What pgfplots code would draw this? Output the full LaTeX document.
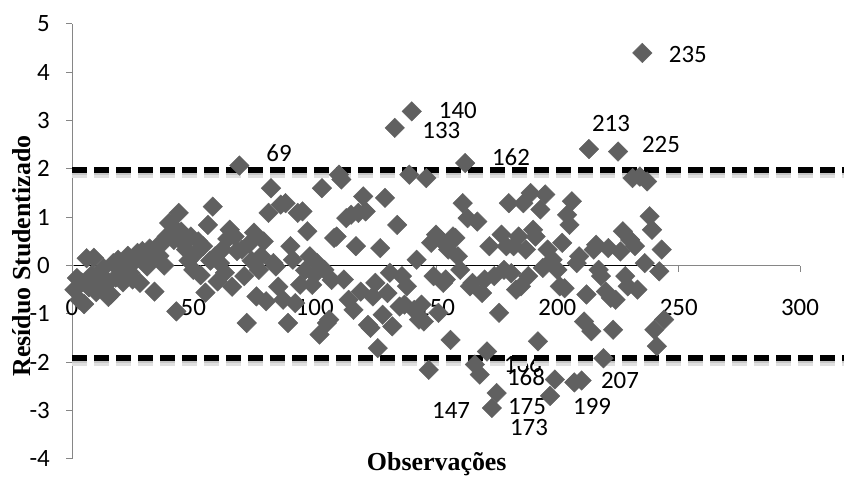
\documentclass[border=0pt]{standalone}
\usepackage{fontspec}
\setmainfont{Carlito}
\newfontfamily\titlefont{Liberation Serif}
\usepackage{pgfplots}
\usepackage{pgfplotstable}
\pgfplotsset{compat=1.18}

\definecolor{mk}{RGB}{96,96,96}
\definecolor{axgray}{RGB}{134,134,134}

% Studentized residual of each observation
\pgfplotstableread{
obs res
1 -0.50
2 -0.26
3 -0.71
4 -0.35
5 -0.80
6 0.15
7 -0.45
8 -0.20
9 0.16
10 -0.55
11 -0.30
12 -0.19
13 -0.05
14 -0.40
15 -0.65
16 -0.60
17 0.05
18 -0.25
19 0.12
20 -0.10
21 -0.35
22 0.05
23 0.20
24 -0.15
25 -0.29
26 0.10
27 0.26
28 -0.36
29 0.30
30 0.05
31 -0.02
32 0.35
33 0.15
34 -0.54
35 0.39
36 0.20
37 0.45
38 0.00
39 0.60
40 0.88
41 0.84
42 0.53
43 -0.95
44 1.09
45 0.70
46 0.45
47 0.33
48 0.10
49 0.60
50 -0.09
51 0.25
52 0.50
53 -0.20
54 0.40
55 -0.56
56 0.84
57 0.10
58 1.22
59 0.19
60 -0.33
61 0.05
62 0.33
63 -0.15
64 0.55
65 0.74
66 -0.44
67 0.60
68 0.30
69 2.07
70 0.33
71 -0.22
72 -1.19
73 0.45
74 0.10
75 0.68
76 -0.64
77 -0.09
78 0.20
79 0.50
80 -0.74
81 1.09
82 1.60
83 0.05
84 -0.02
85 -0.44
86 1.26
87 -0.71
88 1.29
89 -1.19
90 0.40
91 0.12
92 -0.78
93 1.09
94 -0.40
95 1.12
96 -0.10
97 0.71
98 0.19
99 -0.40
100 -0.19
101 0.05
102 -1.43
103 1.60
104 -0.09
105 -1.19
106 -1.12
107 -0.30
108 0.57
109 0.60
110 1.88
111 1.78
112 -0.29
113 0.98
114 -0.71
115 1.05
116 -0.92
117 0.40
118 1.09
119 -0.54
120 1.43
121 1.12
122 -1.23
123 -1.29
124 -0.64
125 -0.36
126 -1.71
127 0.36
128 -1.02
129 1.40
130 -0.57
131 -0.15
132 -1.26
133 2.85
134 0.84
135 -0.85
136 -0.22
137 -0.81
138 -0.43
139 1.88
140 3.19
141 -0.92
142 0.12
143 -1.12
144 -0.81
145 -1.16
146 1.81
147 -2.16
148 0.47
149 -0.22
150 0.64
151 -0.98
152 0.53
153 -0.36
154 -0.29
155 0.33
156 -1.54
157 0.60
158 0.57
159 0.19
160 -0.09
161 1.29
162 2.12
163 0.98
164 -0.43
165 -0.36
166 -2.05
167 0.91
168 -2.26
169 -0.57
170 -0.29
171 -1.78
172 0.40
173 -2.95
174 -0.22
175 -2.64
176 -0.98
177 0.64
178 -0.09
179 0.40
180 1.29
181 -0.16
182 0.40
183 -0.50
184 0.60
185 -0.43
186 1.29
187 0.33
188 -0.22
189 1.50
190 0.74
191 0.60
192 -1.57
193 1.16
194 -0.05
195 1.47
196 0.33
197 -2.70
198 0.12
199 -2.36
200 -0.09
201 -0.43
202 0.47
203 -0.47
204 1.05
205 0.84
206 1.33
207 -2.42
208 0.05
209 0.19
210 -2.38
211 -1.16
212 -0.60
213 2.41
214 -1.36
215 0.33
216 0.43
217 -0.09
218 -0.22
219 -1.92
220 -0.54
221 0.36
222 -0.67
223 -1.33
224 -0.71
225 2.36
226 0.29
227 0.71
228 -0.22
229 -0.43
230 0.53
231 1.81
232 0.40
233 -0.50
234 1.84
235 4.40
236 0.05
237 1.74
238 1.02
239 0.74
240 -1.33
241 -1.67
242 -0.12
243 0.33
244 -1.12
}\residuos

\begin{document}
\begin{tikzpicture}
\begin{axis}[
  scale only axis,
  width=728bp, height=434.7bp,
  xmin=0, xmax=300, ymin=-4, ymax=5,
  axis x line=middle,
  axis y line=left,
  axis line style={axgray, line width=1bp, -},
  xtick={0,50,...,300},
  ytick={-4,-3,...,5},
  hide obscured x ticks=false,
  hide obscured y ticks=false,
  tick style={axgray, line width=1bp},
  major tick length=6bp,
  tick align=outside,
  /pgf/number format/assume math mode=true,
  tick label style={font=\fontsize{25}{30}\selectfont, text=black},
  xticklabel style={anchor=base, inner sep=0pt, yshift=-43.5bp},
  yticklabel style={anchor=east, inner sep=0pt, xshift=-16bp},
  clip=false,
]
  % observations
  \addplot[only marks, mark=square*, mark size=6.9bp,
           mark options={rotate=45, fill=mk, draw=mk}]
    table[x=obs, y=res] {\residuos};

  % zero reference line
  \addplot[black, line width=1.8bp] coordinates {(1,0) (244,0)};

  % labels of the flagged observations
  \begin{scope}[every node/.style={font=\fontsize{25}{30}\selectfont, inner sep=0pt}]
    \node at (axis cs:253.8,4.36) {235};
    \node at (axis cs:222.1,2.93) {213};
    \node at (axis cs:242.7,2.50) {225};
    \node at (axis cs:159.0,3.20) {140};
    \node at (axis cs:152.2,2.80) {133};
    \node at (axis cs:180.9,2.25) {162};
    \node at (axis cs:85.3,2.33) {69};
    \node at (axis cs:185.8,-2.05) {166};
    \node at (axis cs:187.1,-2.30) {168};
    \node at (axis cs:156.2,-3.01) {147};
    \node at (axis cs:187.5,-2.92) {175};
    \node at (axis cs:188.3,-3.36) {173};
    \node at (axis cs:214.3,-2.92) {199};
    \node at (axis cs:225.8,-2.39) {207};
  \end{scope}

  % soft shadow of the limit lines
  \addplot[black!12, line width=8bp, dash pattern=on 15bp off 7bp] coordinates {(0,1.90) (318,1.90)};
  \addplot[black!12, line width=8bp, dash pattern=on 15bp off 7bp] coordinates {(0,-1.99) (318,-1.99)};
  \addplot[black!22, line width=5bp, dash pattern=on 15bp off 7bp] coordinates {(0,1.93) (318,1.93)};
  \addplot[black!22, line width=5bp, dash pattern=on 15bp off 7bp] coordinates {(0,-1.96) (318,-1.96)};
  % limit lines
  \addplot[black, line width=5.5bp, dash pattern=on 15bp off 7bp] coordinates {(0,1.98) (318,1.98)};
  \addplot[black, line width=5.5bp, dash pattern=on 15bp off 7bp] coordinates {(0,-1.91) (318,-1.91)};

  % axis titles
  \node[font=\titlefont\bfseries\fontsize{26}{31}\selectfont, anchor=base]
    at (rel axis cs:0.501,-0.026) {Observações};
  \node[font=\titlefont\bfseries\fontsize{26}{31}\selectfont, rotate=90, anchor=center]
    at (rel axis cs:-0.0687,0.466) {Resíduo Studentizado};

  \coordinate (bbSW) at (rel axis cs:-0.0989,-0.0398);
  \coordinate (bbNE) at (rel axis cs:1.0604,1.0552);
\end{axis}
\pgfresetboundingbox
\path[use as bounding box] (bbSW) rectangle (bbNE);
\end{tikzpicture}
\end{document}
